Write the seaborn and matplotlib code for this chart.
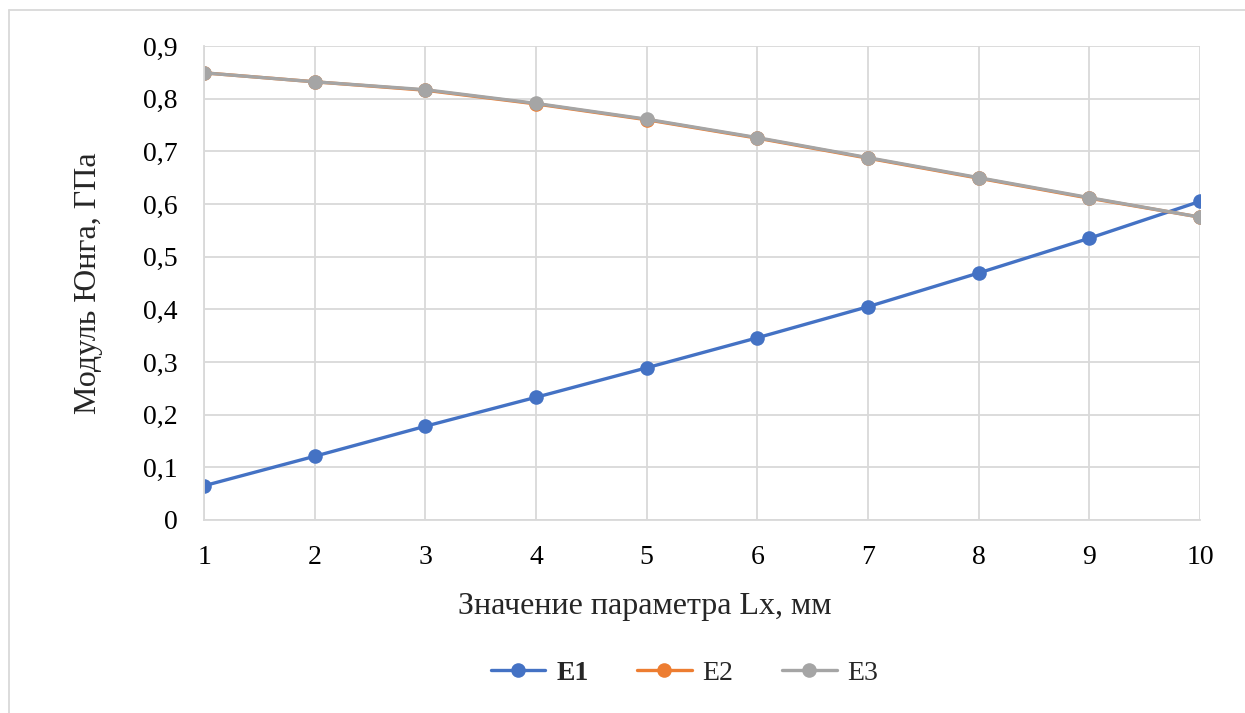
import pandas as pd
import matplotlib
matplotlib.use("Agg")
import matplotlib.pyplot as plt
import seaborn as sns
from matplotlib.ticker import FuncFormatter, MultipleLocator
from matplotlib.lines import Line2D

# values
lx = [1, 2, 3, 4, 5, 6, 7, 8, 9, 10]
e1 = [0.065, 0.121, 0.178, 0.233, 0.289, 0.346, 0.405, 0.469, 0.535, 0.605]
e2 = [0.849, 0.832, 0.816, 0.790, 0.760, 0.725, 0.687, 0.649, 0.611, 0.575]
e3 = [0.849, 0.832, 0.817, 0.791, 0.761, 0.726, 0.688, 0.650, 0.612, 0.575]
series = ["E1", "E2", "E3"]
colors = ["#4472c4", "#ed7d31", "#a5a5a5"]

df = pd.DataFrame({"Lx": lx * 3,
                   "E": e1 + e2 + e3,
                   "series": [s for s in series for _ in lx]})

sns.set_theme(style="white")
plt.rcParams["font.family"] = ["Liberation Serif", "DejaVu Serif"]

fig = plt.figure(figsize=(12.45, 7.13), dpi=100)
ax = fig.add_axes([0.1639, 0.2707, 0.8, 0.6648])

sns.lineplot(data=df, x="Lx", y="E", hue="series", palette=colors,
             marker="o", markersize=10.5, linewidth=2.4, markeredgewidth=0,
             ax=ax, legend=False)

ax.set_xlim(1, 10)
ax.set_ylim(0, 0.9)
ax.xaxis.set_major_locator(MultipleLocator(1))
ax.yaxis.set_major_locator(MultipleLocator(0.1))
ax.yaxis.set_major_formatter(FuncFormatter(lambda v, p: "0" if abs(v) < 1e-9 else f"{v:.1f}".replace(".", ",")))
ax.grid(True, color="#d9d9d9", linewidth=1.3)
ax.set_axisbelow(True)
for side in ["top", "right"]:
    ax.spines[side].set_visible(False)
for side in ["left", "bottom"]:
    ax.spines[side].set_color("#d9d9d9")
    ax.spines[side].set_linewidth(1.3)
ax.tick_params(axis="y", labelsize=20, length=0, pad=19, colors="black")
ax.tick_params(axis="x", labelsize=20, length=0, pad=18, colors="black")
ax.set_xlabel("Значение параметра Lx, мм", fontsize=23)
ax.xaxis.set_label_coords(0.442, -0.152)
ax.set_ylabel("Модуль Юнга, ГПа", fontsize=23, labelpad=29)

handles = [Line2D([], [], color=c, marker="o", markersize=10.5, linewidth=2.4,
                  markeredgewidth=0) for c in colors]
leg = fig.legend(handles, series, loc="center", bbox_to_anchor=(0.55, 0.056),
                 ncol=3, frameon=False, fontsize=20, handlelength=1.95,
                 columnspacing=1.76, handletextpad=0.4)
leg.get_texts()[0].set_fontweight("bold")

# thin chart-area border (left and top edges visible in the reference)
fig.add_artist(Line2D([0.0072, 0.0072], [0, 0.986], color="#d9d9d9", linewidth=1.3))
fig.add_artist(Line2D([0.0072, 1], [0.986, 0.986], color="#d9d9d9", linewidth=1.3))

fig.savefig("out.png", dpi=100)
